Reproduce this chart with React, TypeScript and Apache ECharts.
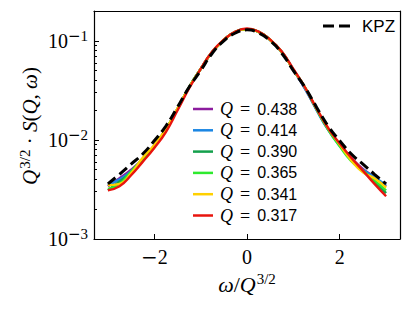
import React, { useEffect, useRef } from 'react';
import * as echarts from 'echarts';

const xValues = [-3, -2.75, -2.5, -2.25, -2, -1.75, -1.5, -1.25, -1, -0.75, -0.5, -0.25, 0, 0.25, 0.5, 0.75, 1, 1.25, 1.5, 1.75, 2, 2.25, 2.5, 2.75, 3];

const kpz = [0.0036, 0.0045, 0.0057, 0.0072, 0.0098, 0.0138, 0.0214, 0.034, 0.05, 0.075, 0.1, 0.12, 0.129, 0.12, 0.1, 0.075, 0.05, 0.034, 0.0214, 0.0138, 0.0098, 0.0072, 0.0057, 0.0045, 0.0036];

const q438 = [0.0034, 0.0041, 0.005, 0.0064, 0.0088, 0.0128, 0.0205, 0.034, 0.052, 0.077, 0.102, 0.123, 0.131, 0.123, 0.102, 0.077, 0.051, 0.033, 0.0203, 0.0128, 0.009, 0.0066, 0.0051, 0.0042, 0.0034];
const q414 = [0.0035, 0.004, 0.0048, 0.0062, 0.0086, 0.0127, 0.0204, 0.034, 0.052, 0.077, 0.102, 0.123, 0.131, 0.123, 0.102, 0.077, 0.051, 0.033, 0.02, 0.0126, 0.0087, 0.0064, 0.005, 0.0042, 0.0035];
const q390 = [0.0031, 0.0038, 0.0047, 0.0063, 0.0087, 0.0128, 0.0206, 0.034, 0.052, 0.077, 0.102, 0.123, 0.131, 0.123, 0.102, 0.077, 0.051, 0.034, 0.0205, 0.013, 0.0089, 0.0063, 0.0048, 0.0038, 0.0029];
const q365 = [0.0032, 0.0036, 0.0048, 0.0064, 0.0086, 0.0127, 0.0205, 0.034, 0.052, 0.077, 0.102, 0.123, 0.131, 0.123, 0.102, 0.077, 0.051, 0.034, 0.0204, 0.0127, 0.0086, 0.0061, 0.0049, 0.0039, 0.0031];
const q341 = [0.0035, 0.0036, 0.0046, 0.0066, 0.0089, 0.0129, 0.0207, 0.034, 0.052, 0.077, 0.102, 0.123, 0.131, 0.123, 0.102, 0.077, 0.051, 0.034, 0.0207, 0.0131, 0.009, 0.0062, 0.0047, 0.0041, 0.0033];
const q317 = [0.0031, 0.0034, 0.0044, 0.006, 0.0083, 0.012, 0.0198, 0.033, 0.052, 0.078, 0.103, 0.124, 0.133, 0.124, 0.103, 0.078, 0.052, 0.034, 0.0208, 0.0132, 0.0092, 0.0066, 0.0049, 0.0036, 0.0027];

const qLabels = ['0.438', '0.414', '0.390', '0.365', '0.341', '0.317'];
const qSeries = [q438, q414, q390, q365, q341, q317];
const qColors = ['#8c1c9e', '#1b86e3', '#14a04c', '#2eea2e', '#ffd000', '#e8140e'];

const xTickValues = [-2, 0, 2];
const yMajorTicks = [0.001, 0.01, 0.1];
const yMinorTicks = [0.002, 0.003, 0.004, 0.005, 0.006, 0.007, 0.008, 0.009, 0.02, 0.03, 0.04, 0.05, 0.06, 0.07, 0.08, 0.09, 0.2];

const SERIF = 'Liberation Serif';
const SANS = 'Liberation Sans';

export default function App() {
  const ref = useRef<HTMLDivElement>(null);
  useEffect(() => {
    if (!ref.current) return;
    const chart = echarts.init(ref.current, undefined, { renderer: 'svg' });
    const nameRich = (size: number, sup: number, pad: number) => ({
      i: { fontFamily: SERIF, fontStyle: 'italic', fontSize: size, fill: '#000' },
      r: { fontFamily: SERIF, fontSize: size, fill: '#000' },
      sup: { fontFamily: SERIF, fontSize: sup, fill: '#000', verticalAlign: 'top', padding: [0, 0, pad, 1] },
    });
    const lineSeries = qSeries.map((vals, k) => ({
      name: 'Q = ' + qLabels[k],
      type: 'line',
      data: xValues.map((x, i) => [x, vals[i]]),
      showSymbol: false,
      smooth: 0.5,
      lineStyle: { color: qColors[k], width: 2.4 },
      itemStyle: { color: qColors[k] },
      z: 2 + k,
    }));
    const graphics: any[] = [
      { type: 'line', shape: { x1: 323, y1: 26, x2: 353, y2: 26 }, style: { stroke: '#000', lineWidth: 3, lineDash: [11, 5] } },
      { type: 'text', x: 362, y: 26, style: { text: 'KPZ', fontFamily: SANS, fontSize: 17, fill: '#000', verticalAlign: 'middle', align: 'left' } },
      {
        type: 'text', x: 30, y: 126, rotation: Math.PI / 2,
        style: {
          text: '{i|Q}{sup|3/2}{r| · }{i|S}{r|(}{i|Q}{r|, }{i|ω}{r|)}',
          align: 'center', verticalAlign: 'middle', rich: nameRich(21, 15, 10),
        },
      },
      {
        type: 'text', x: 247, y: 284,
        style: {
          text: '{i|ω}{r|/}{i|Q}{sup|3/2}',
          align: 'center', verticalAlign: 'middle', rich: nameRich(22, 15, 10),
        },
      },
    ];
    qLabels.forEach((lab, k) => {
      const y = 109 + k * 21.3;
      graphics.push({ type: 'line', shape: { x1: 193, y1: y, x2: 213, y2: y }, style: { stroke: qColors[k], lineWidth: 2.5 } });
      graphics.push({
        type: 'text', x: 220, y,
        style: {
          text: '{q|Q}{e|=}{n|' + lab + '}',
          verticalAlign: 'middle', align: 'left',
          rich: {
            q: { fontFamily: SERIF, fontStyle: 'italic', fontSize: 18, fill: '#000' },
            e: { fontFamily: SERIF, fontSize: 18, fill: '#000', padding: [0, 7, 0, 7] },
            n: { fontFamily: SANS, fontSize: 16, fill: '#000' },
          },
        },
      });
    });
    const logLabel = (v: number) => {
      const e = Math.round(Math.log10(v));
      return e < 0 ? '{b|10}{m|−}{s|' + Math.abs(e) + '}' : '{b|10}{s|' + e + '}';
    };
    chart.setOption({
      animation: false,
      grid: { left: 94, top: 11, right: 15, bottom: 71 },
      xAxis: [
        {
          type: 'value', min: -3.3, max: 3.3,
          axisLine: { show: true, onZero: false, lineStyle: { color: '#000', width: 1.2 } },
          axisTick: { show: true, inside: true, length: 5, customValues: xTickValues, lineStyle: { color: '#000', width: 1 } },
          axisLabel: {
            customValues: xTickValues, margin: 8, color: '#000', fontSize: 20,
            formatter: (v: number) => (v < 0 ? '{m|−}{d|' + Math.abs(v) + '}' : '{d|' + v + '}'),
            rich: {
              m: { fontFamily: 'DejaVu Serif', fontSize: 20, color: '#000' },
              d: { fontFamily: SERIF, fontSize: 20, color: '#000' },
            },
          },
          splitLine: { show: false },
        },
        {
          type: 'value', min: -3.3, max: 3.3, position: 'top',
          axisLine: { show: true, onZero: false, lineStyle: { color: '#000', width: 1.2 } },
          axisTick: { show: false }, axisLabel: { show: false }, splitLine: { show: false },
        },
      ],
      yAxis: [
        {
          type: 'log', logBase: 10, min: 0.001, max: 0.2,
          axisLine: { show: true, onZero: false, lineStyle: { color: '#000', width: 1.2 } },
          axisTick: { show: true, inside: true, length: 5, customValues: yMajorTicks, lineStyle: { color: '#000', width: 1 } },
          axisLabel: {
            customValues: yMajorTicks, margin: 6, color: '#000', formatter: logLabel,
            rich: {
              b: { fontFamily: SERIF, fontSize: 20, color: '#000' },
              m: { fontFamily: 'DejaVu Serif', fontSize: 15, color: '#000', verticalAlign: 'top', padding: [0, 0, 10, 0] },
              s: { fontFamily: SERIF, fontSize: 15, color: '#000', verticalAlign: 'top', padding: [0, 0, 10, 0] },
            },
          },
          splitLine: { show: false },
          minorTick: { show: false },
        },
        {
          type: 'log', logBase: 10, min: 0.001, max: 0.2, position: 'left',
          axisLine: { show: false, onZero: false },
          axisTick: { show: true, inside: true, length: 3, customValues: yMinorTicks, lineStyle: { color: '#000', width: 1 } },
          axisLabel: { show: false }, splitLine: { show: false },
        },
        {
          type: 'log', logBase: 10, min: 0.001, max: 0.2, position: 'right',
          axisLine: { show: true, onZero: false, lineStyle: { color: '#000', width: 1.2 } },
          axisTick: { show: false }, axisLabel: { show: false }, splitLine: { show: false },
        },
      ],
      series: [
        ...lineSeries,
        {
          name: 'KPZ', type: 'line',
          data: xValues.map((x, i) => [x, kpz[i]]),
          showSymbol: false, smooth: 0.5,
          lineStyle: { color: '#000', width: 3, type: [10, 5] },
          z: 10,
        },
      ],
      graphic: graphics,
    });
    return () => chart.dispose();
  }, []);
  return <div ref={ref} style={{ width: 415, height: 310, position: 'absolute', left: 0, top: 0, background: '#fff' }} />;
}
